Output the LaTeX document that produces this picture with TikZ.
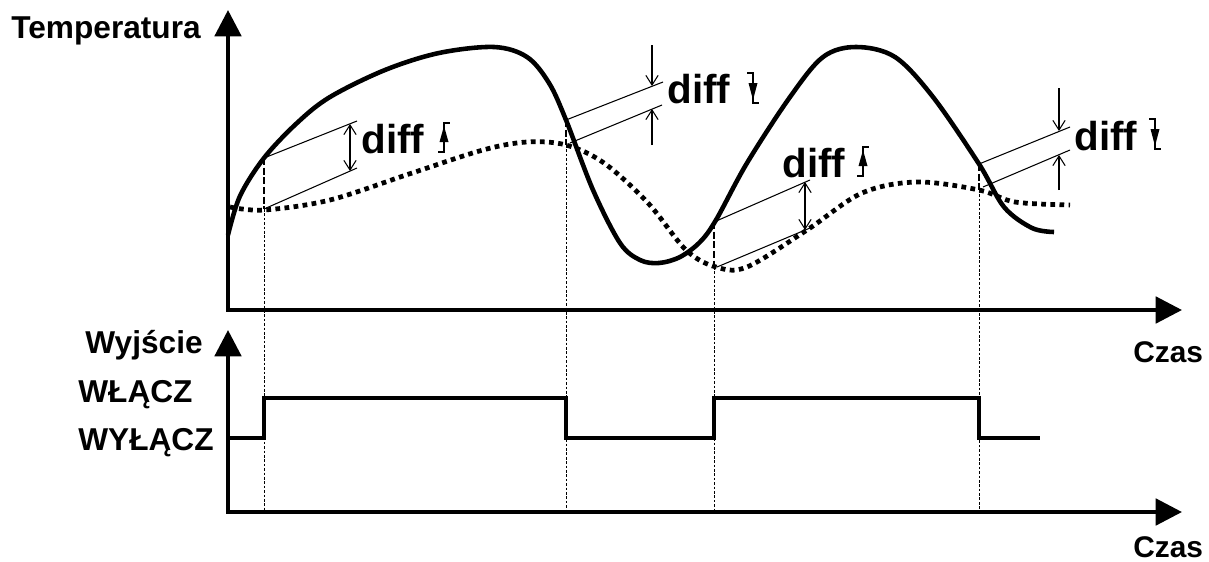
\documentclass[tikz,border=0pt]{standalone}
\usepackage{fontspec}
\setmainfont{Liberation Sans}
\usetikzlibrary{arrows.meta,calc}
\tikzset{
  os/.style={line width=2.3pt,-{Triangle[length=15pt,width=15pt]}},
  krzywa/.style={line width=2.6pt,line join=round},
  kropki/.style={line width=2.7pt,dash pattern=on 2.7pt off 2.5pt},
  sygnal/.style={line width=2.3pt},
  cienka/.style={line width=0.6pt},
  strz/.style={line width=0.6pt,-{Straight Barb[length=5.5pt,width=7pt]}},
  dstrz/.style={line width=0.6pt,{Straight Barb[length=5.5pt,width=7pt]}-{Straight Barb[length=5.5pt,width=7pt]}},
  kreska/.style={line width=0.9pt,dash pattern=on 4pt off 1.5pt},
  pion/.style={line width=0.4pt,dash pattern=on 1.5pt off 1pt},
  napis/.style={font=\fontsize{18}{20}\selectfont\bfseries,inner sep=0pt},
  czas/.style={font=\fontsize{17}{19}\selectfont\bfseries,inner sep=0pt},
  roznica/.style={font=\fontsize{23}{26}\selectfont\bfseries,inner sep=0pt},
  narast/.pic={\draw[line width=1.5pt] (-6,0) -- (0,0) -- (0,-29) -- (6,-29);
               \fill (0,-26) -- (-4.5,-10) -- (4.5,-10) -- cycle;},
  opad/.pic={\draw[line width=1.5pt] (-6,0) -- (0,0) -- (0,30) -- (6,30);
             \fill (0,27) -- (-4.5,10) -- (4.5,10) -- cycle;},
}
\begin{document}
\begin{tikzpicture}[x=0.02cm,y=-0.02cm]
  \useasboundingbox (0,0) rectangle (1209,561);
  % osie
  \coordinate (o1) at (228,310); \coordinate (o2) at (228,512);
  \coordinate (y1) at (228,10); \coordinate (x1) at (1182,310);
  \coordinate (y2) at (228,330); \coordinate (x2) at (1182,512);
  \draw[os] ($(o1)+(0,1.5)$) -- (y1);
  \draw[os] ($(o1)+(-1.5,0)$) -- (x1);
  \draw[os] ($(o2)+(0,1.5)$) -- (y2);
  \draw[os] ($(o2)+(-1.5,0)$) -- (x2);
  \node[napis,anchor=base east] (temp) at (201,38) {Temperatura};
  \node[napis,anchor=base east] (wyj) at (203,353) {Wyjście};
  \node[napis,anchor=base west] (wl) at (78,402) {WŁĄCZ};
  \node[napis,anchor=base west] (wyl) at (78,450) {WYŁĄCZ};
  \node[czas,anchor=base west] (czas1) at (1133,362) {Czas};
  \node[czas,anchor=base west] (czas2) at (1133,557) {Czas};
  % krzywe
  \draw[krzywa] plot[smooth,tension=0.55] coordinates {(228,235) (240,196) (264,158) (297,123)
    (330,97) (385,70) (439,53) (494,47) (527,57) (549,83) (566,120) (593,190) (620,243) (640,260)
    (659,263) (680,257) (700,242) (716,220) (747,163) (790,97) (823,57) (856,47) (895,57) (933,97)
    (979,164) (1004,207) (1032,228) (1054,232)};
  \draw[kropki] plot[smooth,tension=0.55] coordinates {(230,207) (264,210) (330,200) (412,173) (483,150)
    (527,142) (566,145) (604,163) (648,203) (686,250) (716,267) (747,267) (807,230) (862,193)
    (917,182) (979,190) (1015,202) (1070,205)};
  % punkty przelaczania
  \coordinate (p1) at (264,158); \coordinate (q1) at (264,209); \coordinate (b1) at (264,510);
  \coordinate (p2) at (566,120); \coordinate (q2) at (566,145); \coordinate (b2) at (566,510);
  \coordinate (p3) at (714,222); \coordinate (q3) at (714,267); \coordinate (b3) at (714,510);
  \coordinate (p4) at (979,164); \coordinate (q4) at (979,190); \coordinate (b4) at (979,510);
  \draw[kreska] (p1) -- (q1); \draw[pion] (q1) -- (b1);
  \draw[kreska] (p2) -- (q2); \draw[pion] (q2) -- (b2);
  \draw[kreska] (p3) -- (q3); \draw[pion] (q3) -- (b3);
  \draw[kreska] (p4) -- (q4); \draw[pion] (q4) -- (b4);
  % diff 1
  \coordinate (u1) at (357,121); \coordinate (l1) at (357,168);
  \draw[cienka] (p1) -- (u1); \draw[cienka] (q1) -- (l1);
  \coordinate (a1) at (350,124); \coordinate (c1) at (350,171);
  \draw[dstrz] (a1) -- (c1);
  \node[roznica,anchor=base west] (d1) at (361,153) {diff};
  \pic at (444,152) {narast};
  % diff 2
  \coordinate (u2) at (663,82); \coordinate (l2) at (662,105); \coordinate (s2) at (570,143);
  \draw[cienka] (p2) -- (u2); \draw[cienka] (s2) -- (l2);
  \coordinate (a2) at (652,45); \coordinate (c2) at (652,86);
  \coordinate (e2) at (652,145); \coordinate (f2) at (652,109);
  \draw[strz] (a2) -- (c2); \draw[strz] (e2) -- (f2);
  \node[roznica,anchor=base west] (d2) at (667,103) {diff};
  \pic at (753,73) {opad};
  % diff 3
  \coordinate (u3) at (810,180); \coordinate (l3) at (810,228); \coordinate (s3) at (717,267);
  \draw[cienka] (p3) -- (u3); \draw[cienka] (s3) -- (l3);
  \coordinate (a3) at (805,182); \coordinate (c3) at (805,230);
  \draw[dstrz] (a3) -- (c3);
  \node[roznica,anchor=base west] (d3) at (782,177) {diff};
  \pic at (863,176) {narast};
  % diff 4
  \coordinate (u4) at (1070,127); \coordinate (l4) at (1070,150); \coordinate (s4) at (983,187);
  \draw[cienka] (p4) -- (u4); \draw[cienka] (s4) -- (l4);
  \coordinate (a4) at (1059,88); \coordinate (c4) at (1059,131);
  \coordinate (e4) at (1059,190); \coordinate (f4) at (1059,155);
  \draw[strz] (a4) -- (c4); \draw[strz] (e4) -- (f4);
  \node[roznica,anchor=base west] (d4) at (1074,150) {diff};
  \pic at (1155,119) {opad};
  % wyjscie
  \draw[sygnal] (228,438) -- (264,438) -- (264,398) -- (566,398) -- (566,438) -- (714,438)
    -- (714,398) -- (979,398) -- (979,438) -- (1040,438);
\end{tikzpicture}
\end{document}
